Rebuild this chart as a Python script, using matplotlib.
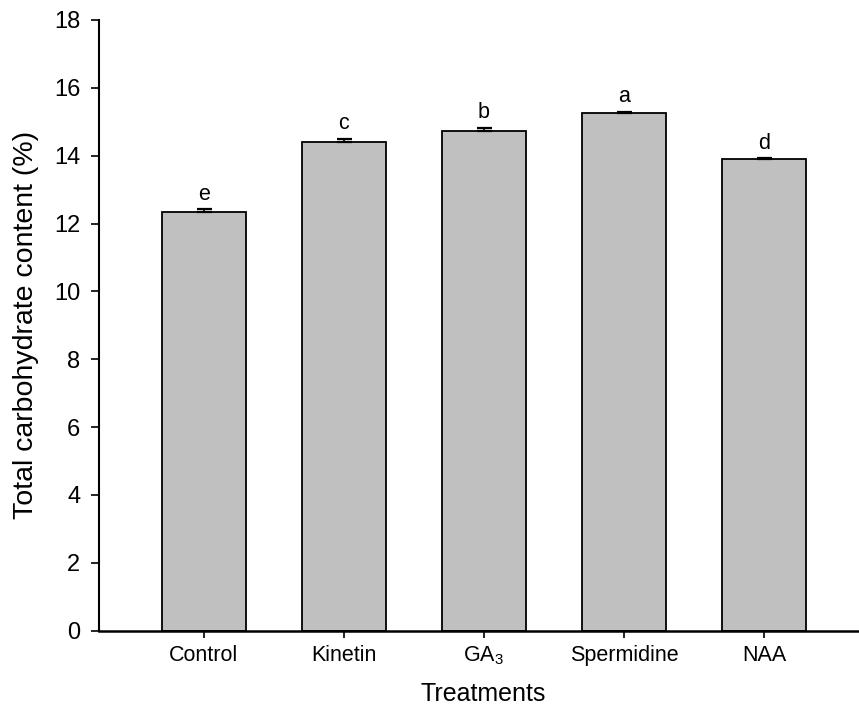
import numpy as np
import matplotlib
matplotlib.use('Agg')
import matplotlib.pyplot as plt

plt.rcParams['font.family'] = ['Liberation Sans', 'DejaVu Sans']
plt.rcParams['mathtext.fontset'] = 'custom'
plt.rcParams['mathtext.rm'] = 'Liberation Sans'

# data
treatments = ['Control', 'Kinetin', 'GA$_{3}$', 'Spermidine', 'NAA']
carb_means = [12.35, 14.41, 14.74, 15.25, 13.89]
carb_err = [0.07, 0.09, 0.08, 0.04, 0.03]
letters = ['e', 'c', 'b', 'a', 'd']

fig = plt.figure(figsize=(8.59, 7.08), dpi=100)
ax = fig.add_axes([0.1152, 0.1092, 0.885, 0.8626])

x = np.arange(len(treatments))
# only the upper half of each error bar shows above the bar
lower = np.zeros(len(carb_err))
ax.bar(x, carb_means, width=0.6, color='#c0c0c0', edgecolor='black', linewidth=1.3,
       yerr=[lower, carb_err],
       error_kw=dict(ecolor='black', elinewidth=1.2, capsize=5.4, capthick=1.6))

for xi, m, e, lab in zip(x, carb_means, carb_err, letters):
    ax.text(xi, m + e + 0.28, lab, ha='center', va='baseline', fontsize=15.5)

ax.set_xlim(-0.748, 4.68)
ax.set_ylim(0, 18)
ax.set_yticks(np.arange(0, 19, 2))
ax.set_xticks(x)
ax.set_xticklabels(treatments, fontsize=15.5)
ax.tick_params(axis='y', labelsize=17, direction='out', length=5.8, width=1.2, pad=7.5)
ax.tick_params(axis='x', direction='out', length=5, width=1.2, pad=5)

for s in ['top', 'right']:
    ax.spines[s].set_visible(False)
ax.spines['left'].set_linewidth(1.5)
ax.spines['bottom'].set_linewidth(1.8)

ax.set_ylabel('Total carbohydrate content (%)', fontsize=20.5)
ax.yaxis.set_label_coords(-0.079, 0.5)
ax.set_xlabel('Treatments', fontsize=18, va='baseline')
ax.xaxis.set_label_coords(0.505, -0.115)

fig.savefig('out.png', dpi=100)
